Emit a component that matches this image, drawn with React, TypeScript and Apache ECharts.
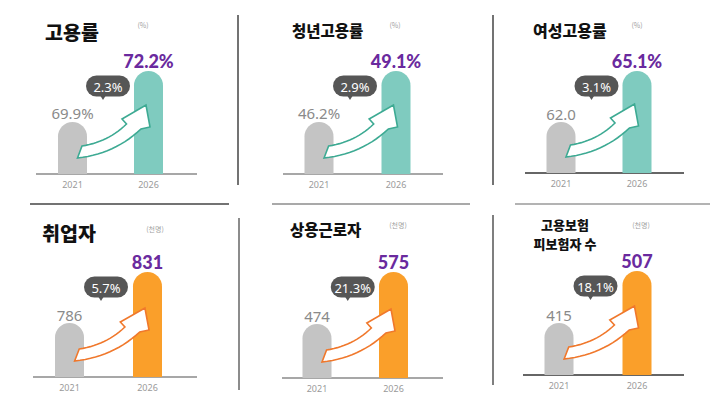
import React, { useEffect, useRef } from 'react';
import * as echarts from 'echarts';

// ---------- data ----------
const titles = [['고용률'], ['청년고용률'], ['여성고용률'], ['취업자'], ['상용근로자'], ['고용보험', '피보험자 수']];
const units = ['(%)', '(%)', '(%)', '(천명)', '(천명)', '(천명)'];
const years = ['2021', '2026'];
const values2021 = [69.9, 46.2, 62.0, 786, 474, 415];
const values2026 = [72.2, 49.1, 65.1, 831, 575, 507];
const suffix2021 = ['%', '%', '', '', '', ''];
const suffix2026 = ['%', '%', '%', '', '', ''];
const decimals = [1, 1, 1, 0, 0, 0];
const growthRates = ['2.3%', '2.9%', '3.1%', '5.7%', '21.3%', '18.1%'];

// ---------- layout / style ----------
const TEAL = '#7fcbbf';
const TEAL_LINE = '#3daa93';
const ORANGE = '#fa9f2a';
const ORANGE_LINE = '#f0782c';
const GRAY_BAR = '#c4c4c4';
const PURPLE = '#6a2a9e';

const panels = [
  { left: 34.5, top: 71, width: 152, height: 103, ratio: 0.505, color: TEAL, line: TEAL_LINE, base: [36, 197], baseColor: '#8a8a8a', title: { x: 45, y: [31], size: 19.5, align: 'left' }, unit: { x: 143, y: 25 } },
  { left: 280.5, top: 71, width: 154, height: 103, ratio: 0.505, color: TEAL, line: TEAL_LINE, base: [283, 443], baseColor: '#8a8a8a', title: { x: 292, y: [29.5], size: 15.5, align: 'left' }, unit: { x: 395, y: 25 } },
  { left: 523, top: 71, width: 152, height: 102, ratio: 0.5, color: TEAL, line: TEAL_LINE, base: [525, 684], baseColor: '#333333', title: { x: 533, y: [29.5], size: 16, align: 'left' }, unit: { x: 637, y: 25 } },
  { left: 30.5, top: 272, width: 156, height: 105, ratio: 0.514, color: ORANGE, line: ORANGE_LINE, base: [33, 197], baseColor: '#8a8a8a', title: { x: 42, y: [232], size: 19.5, align: 'left' }, unit: { x: 155, y: 229 } },
  { left: 278.75, top: 272, width: 153, height: 106, ratio: 0.509, color: ORANGE, line: ORANGE_LINE, base: [282, 443], baseColor: '#8a8a8a', title: { x: 290, y: [229], size: 15.5, align: 'left' }, unit: { x: 398, y: 225 } },
  { left: 520, top: 271, width: 156, height: 104, ratio: 0.5, color: ORANGE, line: ORANGE_LINE, base: [523, 684], baseColor: '#333333', title: { x: 565, y: [224.5, 243], size: 13, align: 'center' }, unit: { x: 641, y: 225 } },
];

const yMin = (i: number) => {
  const r = panels[i].ratio;
  return (values2021[i] - r * values2026[i]) / (1 - r);
};

// arrow outline, offsets relative to (2021 bar centre, baseline), for a 76px category spacing
const ARROW = {
  TT: [9.5, -28], C2: [35.5, -32], LN: [54, -50], LB: [49.5, -55], T: [73.5, -69],
  RB: [77.5, -47], RN: [68.5, -45], C1: [42, -20], TB: [5, -16],
};

function quad(p0: number[], c: number[], p1: number[], n: number) {
  const pts: number[][] = [];
  for (let k = 0; k <= n; k++) {
    const t = k / n;
    const a = (1 - t) * (1 - t), b = 2 * (1 - t) * t, d = t * t;
    pts.push([a * p0[0] + b * c[0] + d * p1[0], a * p0[1] + b * c[1] + d * p1[1]]);
  }
  return pts;
}

const fmt = (v: number, d: number, s: string) => v.toFixed(d) + s;

export default function App() {
  const ref = useRef<HTMLDivElement>(null);
  useEffect(() => {
    if (!ref.current) return;
    const chart = echarts.init(ref.current, undefined, { renderer: 'svg' });

    const series: any[] = [];
    panels.forEach((p, i) => {
      series.push({
        type: 'bar',
        xAxisIndex: i,
        yAxisIndex: i,
        barWidth: 29,
        z: 2,
        itemStyle: { borderRadius: [14.5, 14.5, 0, 0] },
        data: [
          {
            value: values2021[i],
            itemStyle: { color: GRAY_BAR },
            label: {
              show: true, position: 'top', distance: 1,
              formatter: fmt(values2021[i], decimals[i], suffix2021[i]),
              color: '#8a8a8a', fontSize: 15, fontFamily: 'Noto Sans',
            },
          },
          {
            value: values2026[i],
            itemStyle: { color: p.color },
            label: {
              show: true, position: 'top', distance: 1,
              formatter: fmt(values2026[i], decimals[i], suffix2026[i]),
              color: PURPLE, fontSize: 18, fontWeight: 900, fontFamily: 'Lato',
            },
          },
        ],
      });
      series.push({
        type: 'custom',
        xAxisIndex: i,
        yAxisIndex: i,
        z: 10,
        silent: true,
        data: [[1, values2026[i]]],
        renderItem: (_params: any, api: any) => {
          const lo = yMin(i);
          const b1 = api.coord([0, lo]);
          const b2 = api.coord([1, lo]);
          const t2 = api.coord([1, values2026[i]]);
          const x1 = b1[0], yb = b1[1], x2 = b2[0], ty = t2[1];
          const sx = (x2 - x1) / 76;
          const P = (q: number[]) => [x1 + q[0] * sx, yb + q[1]];
          const pts: number[][] = [];
          quad(P(ARROW.TT), P(ARROW.C2), P(ARROW.LN), 14).forEach((q) => pts.push(q));
          pts.push(P(ARROW.LB), P(ARROW.T), P(ARROW.RB));
          quad(P(ARROW.RN), P(ARROW.C1), P(ARROW.TB), 14).forEach((q) => pts.push(q));
          const cx = (x1 + x2) / 2 - 2.5;
          const bw = 44, bh = 21, by = ty + 4.5;
          return {
            type: 'group',
            children: [
              { type: 'polygon', shape: { points: pts }, style: { fill: '#ffffff', stroke: p.line, lineWidth: 1.6, lineJoin: 'miter' } },
              { type: 'rect', shape: { x: cx - bw / 2, y: by, width: bw, height: bh, r: bh / 2 }, style: { fill: '#565656' } },
              { type: 'polygon', shape: { points: [[cx - 7.5, by + bh - 0.5], [cx - 2.5, by + bh - 0.5], [cx - 5, by + bh + 3.5]] }, style: { fill: '#565656' } },
              { type: 'text', style: { x: cx, y: by + bh / 2 + 0.5, text: growthRates[i], fill: '#ffffff', fontSize: 13, fontFamily: 'Noto Sans', align: 'center', verticalAlign: 'middle' } },
            ],
          };
        },
      });
    });

    const graphic: any[] = [];
    const lines = [
      { x1: 238, y1: 15, x2: 238, y2: 185, c: '#444444' },
      { x1: 493, y1: 15, x2: 493, y2: 185, c: '#444444' },
      { x1: 239, y1: 218, x2: 239, y2: 390, c: '#666666' },
      { x1: 493, y1: 215, x2: 493, y2: 385, c: '#555555' },
      { x1: 30, y1: 204, x2: 229, y2: 204, c: '#444444' },
      { x1: 272, y1: 204, x2: 470, y2: 204, c: '#8c8c8c' },
      { x1: 515, y1: 204, x2: 710, y2: 204, c: '#9a9a9a' },
    ];
    lines.forEach((l) => graphic.push({ type: 'line', shape: l, style: { stroke: l.c, lineWidth: 1.5 }, silent: true }));
    panels.forEach((p, i) => {
      const by = p.top + p.height;
      graphic.push({ type: 'line', shape: { x1: p.base[0], y1: by, x2: p.base[1], y2: by }, style: { stroke: p.baseColor, lineWidth: 1.5 }, z: 1 });
      titles[i].forEach((t, k) => {
        graphic.push({
          type: 'text', x: p.title.x, y: p.title.y[k],
          style: { text: t, fontSize: p.title.size, fontWeight: 900, fontFamily: 'Noto Sans CJK KR', fill: '#111111', align: p.title.align, verticalAlign: 'middle' },
        });
      });
      graphic.push({
        type: 'text', x: p.unit.x, y: p.unit.y,
        style: { text: units[i], fontSize: 7, fontFamily: 'Noto Sans CJK KR', fill: '#a0a0a0', align: 'center', verticalAlign: 'middle' },
      });
    });

    chart.setOption({
      animation: false,
      backgroundColor: '#ffffff',
      grid: panels.map((p) => ({ left: p.left, top: p.top, width: p.width, height: p.height })),
      xAxis: panels.map((_, i) => ({
        type: 'category', gridIndex: i, data: years,
        axisLine: { show: false }, axisTick: { show: false }, splitLine: { show: false },
        axisLabel: { color: '#9a9a9a', fontSize: 9, margin: 5.5, fontFamily: 'Noto Sans' },
      })),
      yAxis: panels.map((_, i) => ({ type: 'value', gridIndex: i, min: yMin(i), max: values2026[i], show: false })),
      series,
      graphic,
    });
    return () => chart.dispose();
  }, []);
  return <div ref={ref} style={{ position: 'fixed', left: 0, top: 0, width: 710, height: 402 }} />;
}
